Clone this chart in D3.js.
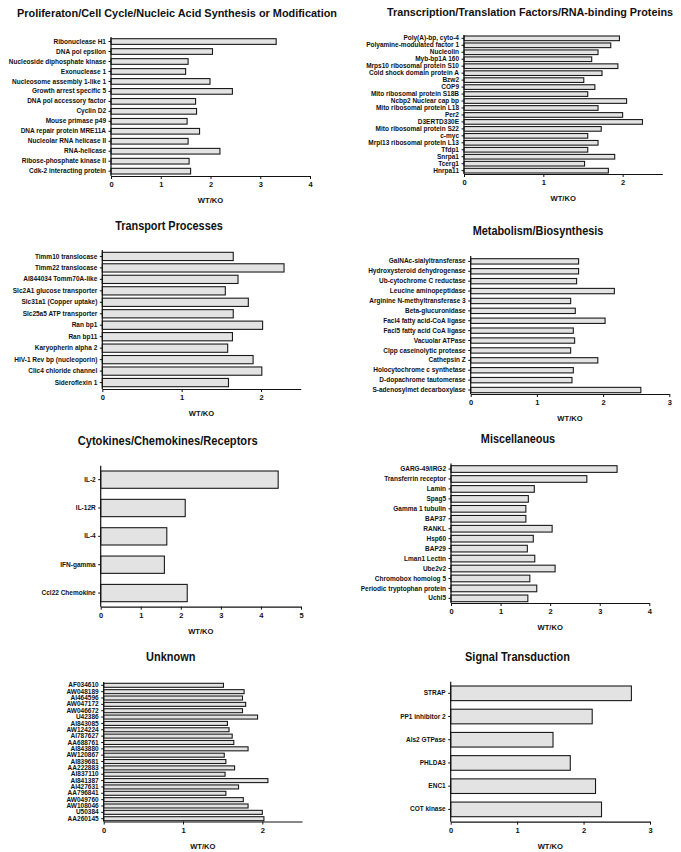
<!DOCTYPE html>
<html><head><meta charset="utf-8">
<script src="https://cdn.jsdelivr.net/npm/d3@7"></script>
<style>
body{margin:0;background:#fff;}
text{font-family:"Liberation Sans",Arial,Helvetica,sans-serif;font-weight:bold;fill:#111;}
</style></head>
<body><svg id="c" width="681" height="852"></svg>
<script>
// ---------- DATA ----------
const prolifGenes = ["Ribonuclease  H1","DNA pol epsilon","Nucleoside diphosphate kinase","Exonuclease 1","Nucleosome assembly 1-like 1","Growth arrest specific 5","DNA pol accessory factor","Cyclin D2","Mouse primase p49","DNA repair protein MRE11A","Nucleolar RNA helicase II","RNA-helicase","Ribose-phosphate kinase II","Cdk-2 interacting protein"];
const prolifValues = [3.32,2.04,1.55,1.50,1.99,2.44,1.70,1.72,1.53,1.78,1.55,2.19,1.57,1.60];

const transcGenes = ["Poly(A)-bp, cyto-4","Polyamine-modulated factor 1","Nucleolin","Myb-bp1A 160","Mrps10 ribosomal protein S10","Cold shock domain protein A","Bzw2","COP9","Mito ribosomal protein S18B","Ncbp2 Nuclear cap bp","Mito ribosomal protein L18","Per2","D3ERTD330E","Mito ribosomal protein S22","c-myc","Mrpl13 ribosomal protein L13","Tfdp1","Snrpa1","Tcerg1","Hnrpa11"];
const transcValues = [1.96,1.85,1.69,1.61,1.94,1.74,1.51,1.65,1.56,2.05,1.69,2.00,2.25,1.73,1.56,1.69,1.56,1.90,1.52,1.82];

const transpGenes = ["Timm10 translocase","Timm22 translocase ","AI844034 Tomm70A-like","Slc2A1 glucose transporter","Slc31a1 (Copper uptake)","Slc25a5  ATP transporter","Ran bp1","Ran bp11","Karyopherin alpha 2","HIV-1 Rev bp (nucleoporin)","Clic4 chloride channel","Sideroflexin 1"];
const transpValues = [1.65,2.29,1.71,1.55,1.84,1.65,2.02,1.64,1.58,1.90,2.01,1.59];

const metabGenes = ["GalNAc-sialyltransferase","Hydroxysteroid dehydrogenase ","Ub-cytochrome C reductase","Leucine aminopeptidase","Arginine N-methyltransferase 3","Beta-glucuronidase","Facl4 fatty acid-CoA ligase","Facl5 fatty acid CoA ligase","Vacuolar ATPase","Clpp caseinolytic protease","Cathepsin Z","Holocytochrome c synthetase","D-dopachrome tautomerase ","S-adenosylmet decarboxylase"];
const metabValues = [1.63,1.63,1.60,2.17,1.51,1.58,2.03,1.55,1.57,1.51,1.92,1.55,1.53,2.57];

const cytoGenes = ["IL-2","IL-12R","IL-4","IFN-gamma","Ccl22 Chemokine "];
const cytoValues = [4.43,2.11,1.65,1.59,2.16];

const miscGenes = ["GARG-49/IRG2","Transferrin receptor","Lamin","Spag5","Gamma 1 tubulin","BAP37","RANKL","Hsp60","BAP29","Lman1 Lectin","Ube2v2","Chromobox homolog 5","Periodic tryptophan protein","Uchl5"];
const miscValues = [3.35,2.74,1.68,1.56,1.51,1.51,2.04,1.66,1.54,1.69,2.10,1.59,1.73,1.55];

const unknownGenes = ["AF034610","AW048189","AI464596","AW047172","AW046672","U42386","AI843085","AW124224","AI787627","AA688761","AI843880","AW120867","AI839681","AA222883","AI837110","AI841387","AI427631","AA796841","AW049760","AW108046","U50384","AA260145"];
const unknownValues = [1.51,1.77,1.75,1.79,1.75,1.94,1.56,1.58,1.62,1.64,1.82,1.52,1.54,1.65,1.53,2.07,1.70,1.54,1.76,1.82,2.00,2.02];

const signalGenes = ["STRAP","PP1 inhibitor 2","Als2 GTPase","PHLDA3","ENC1","COT kinase"];
const signalValues = [2.72,2.13,1.54,1.80,2.18,2.27];

const axisTitle = "WT/KO";

// ---------- LAYOUT ----------
const panels = [
 {title:"Proliferaton/Cell Cycle/Nucleic Acid Synthesis or Modification", genes:prolifGenes, values:prolifValues, xMax:4, x0:111, x1:310, barTop:38.7, barBot:174, axisTop:37, axisY:176, pad:0.43, tx:177, tw:320, ty:12},
 {title:"Transcription/Translation Factors/RNA-binding Proteins", genes:transcGenes, values:transcValues, xMax:2.5, x0:464, x1:662.3, barTop:36, barBot:173, axisTop:35, axisY:174, pad:0.33, tx:530, tw:286, ty:11.7},
 {title:"Transport Processes", genes:transpGenes, values:transpValues, xMax:2.5, x0:102.3, x1:300.7, barTop:252.3, barBot:386.7, axisTop:250, axisY:389, pad:0.28, tx:169, tw:107.7, ty:225},
 {title:"Metabolism/Biosynthesis", genes:metabGenes, values:metabValues, xMax:3, x0:470.7, x1:669.3, barTop:258.7, barBot:392.7, axisTop:256, axisY:394, pad:0.46, tx:538, tw:130.7, ty:230.7},
 {title:"Cytokines/Chemokines/Receptors", genes:cytoGenes, values:cytoValues, xMax:5, x0:100.7, x1:301, barTop:471, barBot:601.7, axisTop:465.7, axisY:606.7, pad:0.39, tx:167.7, tw:180, ty:440},
 {title:"Miscellaneous", genes:miscGenes, values:miscValues, xMax:4, x0:451, x1:649.3, barTop:465.7, barBot:601.7, axisTop:463.5, axisY:603, pad:0.33, tx:518, tw:74.3, ty:438},
 {title:"Unknown", genes:unknownGenes, values:unknownValues, xMax:2.5, x0:103.7, x1:302, barTop:683.3, barBot:820.7, axisTop:682, axisY:821.5, pad:0.37, tx:170.7, tw:49.3, ty:656.7},
 {title:"Signal Transduction", genes:signalGenes, values:signalValues, xMax:3, x0:450.7, x1:650, barTop:686, barBot:816.7, axisTop:681.7, axisY:821.7, pad:0.37, tx:517.5, tw:105, ty:656}
];

const svg = d3.select("#c");
const W = 681;

panels.forEach(p => {
  const g = svg.append("g");
  const x = d3.scaleLinear().domain([0, p.xMax]).range([p.x0, p.x1]);
  const y = d3.scaleBand().domain(p.genes).range([p.barTop, p.barBot]).paddingInner(p.pad).paddingOuter(0);

  // bars
  g.selectAll("rect").data(p.genes).join("rect")
    .attr("x", x(0))
    .attr("y", d => y(d))
    .attr("width", (d,i) => x(p.values[i]) - x(0))
    .attr("height", y.bandwidth())
    .attr("fill", "#e3e3e3")
    .attr("stroke", "#1a1a1a")
    .attr("stroke-width", 1.1);

  // x axis
  const xa = g.append("g").attr("transform", `translate(0,${p.axisY})`)
    .call(d3.axisBottom(x).tickValues(d3.range(0, Math.floor(p.xMax) + 1)).tickFormat(d3.format("d")).tickSize(3).tickSizeOuter(0));
  xa.select(".domain").attr("stroke", "#111").attr("stroke-width", 1.2);
  xa.selectAll(".tick line").attr("stroke", "#111");
  xa.selectAll(".tick text").attr("font-size", 7.5).attr("y", 6).attr("font-family", null).attr("fill", null);

  // y axis
  const ya = g.append("g").attr("transform", `translate(${x(0)},0)`)
    .call(d3.axisLeft(y).tickSize(2.5).tickSizeOuter(0).tickPadding(2.5));
  ya.select(".domain").attr("d", `M0,${p.axisTop}V${p.axisY}`).attr("stroke", "#111").attr("stroke-width", 1.2);
  ya.selectAll(".tick line").attr("stroke", "#111");
  ya.selectAll(".tick text").attr("font-size", 6.5).attr("font-family", null).attr("fill", null);

  // axis title
  g.append("text").attr("x", (p.x0 + p.x1) / 2).attr("y", p.axisY + 27)
    .attr("text-anchor", "middle").attr("font-size", 7.6).text(axisTitle);

  // panel title: compress horizontally to the measured width, keeping it inside the page
  const t = g.append("text").attr("x", p.tx).attr("y", p.ty + 4.5)
    .attr("text-anchor", "middle").attr("font-size", 12.5).text(p.title);
  const nat = t.node().getComputedTextLength();
  const room = 2 * Math.min(p.tx - 1, W - 1 - p.tx) - 24;
  let fs = 12.5;
  if (nat > room) fs = 12.5 * room / nat;
  t.attr("font-size", fs).attr("textLength", p.tw).attr("lengthAdjust", "spacingAndGlyphs");
});
</script>
</body></html>
